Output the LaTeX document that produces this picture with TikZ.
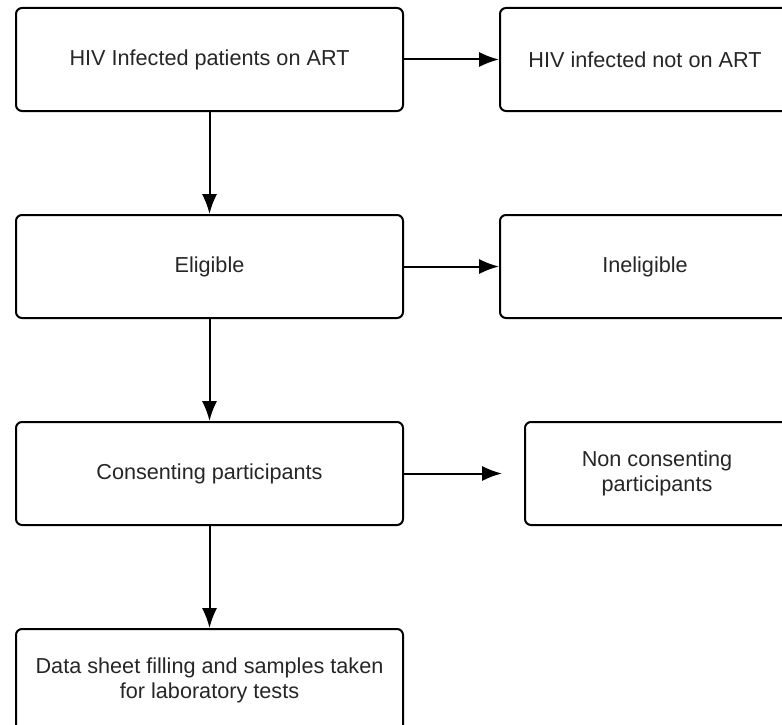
\documentclass[tikz,border=0pt]{standalone}
\usepackage{fontspec}
\setmainfont{Liberation Sans}
\usepackage{tikz}
\usetikzlibrary{arrows.meta,positioning}

\begin{document}
\begin{tikzpicture}[->,>={Latex[length=0.5cm,width=0.38cm]},line width=0.05cm]

\tikzset{
	stageBox/.style={
		draw,
		rectangle,
		rounded corners=0.15cm,
		minimum width=9.675cm,
		minimum height=2.575cm,
		align=center,
		font=\fontsize{15.4}{18}\selectfont,
		text=black!85,
		line width=0.05cm
	}
}

\tikzset{
	exitBox/.style={
		stageBox,
		minimum width=7.25cm
	}
}

\useasboundingbox (0,0) rectangle (19.55,-18.1);

\node[stageBox](OnART) at (5.2375,-1.4875) {HIV Infected patients on ART};
\node[exitBox](NotART) [right=2.375cm of OnART] {HIV infected not on ART};

\node[stageBox](Elig) [below=2.55cm of OnART] {Eligible};
\node[exitBox](Inelig) [right=2.375cm of Elig] {Ineligible};

\node[stageBox](Consent) [below=2.55cm of Elig] {Consenting participants};
\node[exitBox,minimum width=6.6cm](NonConsent) [right=3.0cm of Consent] {Non consenting\\participants};

\node[stageBox](Data) [below=2.55cm of Consent] {Data sheet filling and samples taken\\for laboratory tests};

\path (OnART) edge (NotART);
\path (OnART) edge (Elig);

\path (Elig) edge (Inelig);
\path (Elig) edge (Consent);

\path (Consent) edge[shorten >=0.55cm] (NonConsent);
\path (Consent) edge (Data);

\end{tikzpicture}
\end{document}
